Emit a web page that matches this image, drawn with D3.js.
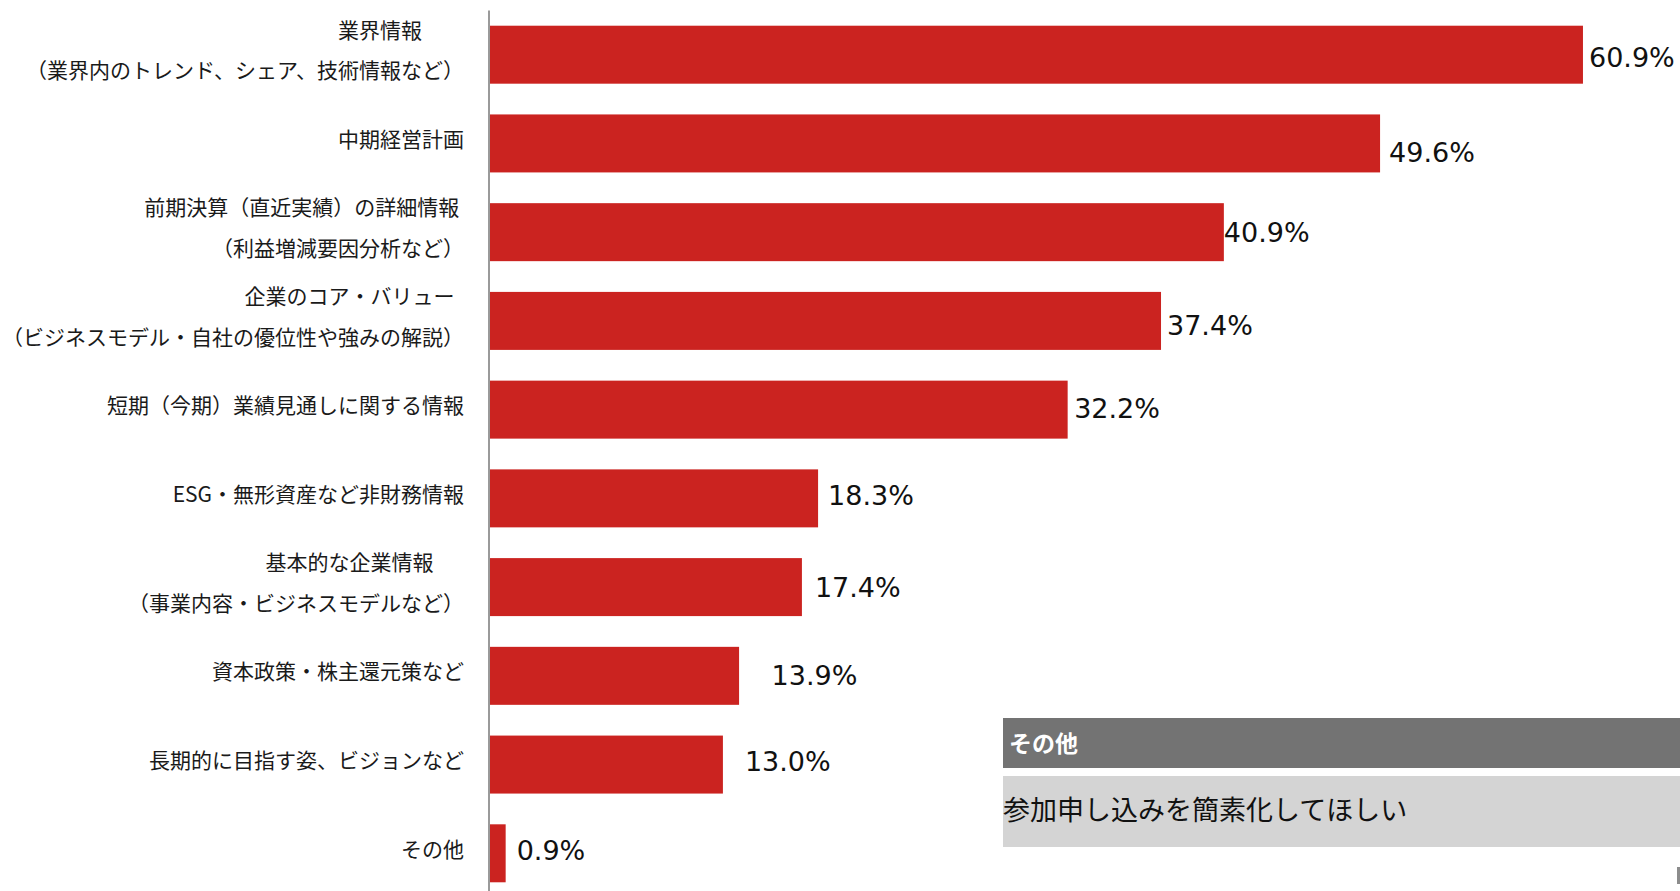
<!DOCTYPE html>
<html lang="ja">
<head>
<meta charset="utf-8">
<script src="https://cdn.jsdelivr.net/npm/d3@7"></script>
<style>
  html, body { margin: 0; padding: 0; background: #ffffff; }
  svg { display: block; }
  .cat { font-family: "Noto Sans CJK JP", "Noto Sans", sans-serif; font-size: 21px; fill: #1a1a1a; white-space: pre; }
  .val { font-family: "DejaVu Sans", Verdana, sans-serif; font-size: 27px; fill: #111111; }
</style>
</head>
<body>
<svg id="chart" width="1680" height="891"></svg>
<script>
// Survey items (each entry is the list of lines of its label)
const categories = [
  ["業界情報　　", "（業界内のトレンド、シェア、技術情報など）"],
  ["中期経営計画"],
  ["前期決算（直近実績）の詳細情報 ", "（利益増減要因分析など）"],
  ["企業のコア・バリュー  ", "（ビジネスモデル・自社の優位性や強みの解説）"],
  ["短期（今期）業績見通しに関する情報"],
  ["ESG・無形資産など非財務情報"],
  ["基本的な企業情報　  ", "（事業内容・ビジネスモデルなど）"],
  ["資本政策・株主還元策など"],
  ["長期的に目指す姿、ビジョンなど"],
  ["その他"]
];

// Share of respondents (%)
const values = [60.9, 49.6, 40.9, 37.4, 32.2, 18.3, 17.4, 13.9, 13.0, 0.9];

// Free-text answers for "その他"
const otherTitle = "その他";
const otherComments = ["参加申し込みを簡素化してほしい"];

// Hand placement of each value label: [dx from bar end, dy from bar centre]
const labelNudge = [
  [6, 3], [9, 9], [0, 0], [6, 4], [6.5, -1.5],
  [10, -3], [13, 0.5], [32.5, -1], [22, -3.5], [11, -3.5]
];

const svg = d3.select("#chart");
const idx = d3.range(values.length);

const x = d3.scaleLinear().domain([0, 70]).range([489.5, 489.5 + 17.955 * 70]);
const y = d3.scaleBand()
  .domain(idx)
  .range([10, 898])
  .paddingInner(0.3465)
  .paddingOuter(0.177);

// Bars
svg.append("g")
  .selectAll("rect")
  .data(idx)
  .join("rect")
  .attr("x", x(0))
  .attr("y", i => y(i))
  .attr("width", i => x(values[i]) - x(0))
  .attr("height", y.bandwidth())
  .attr("fill", "#cb2320");

// Vertical category axis (line only)
const axis = svg.append("g")
  .attr("transform", `translate(${x(0) - 1},0)`)
  .call(d3.axisLeft(y).tickSize(0).tickFormat(""));
axis.select(".domain").attr("stroke", "#9a9a9a").attr("stroke-width", 2);

// Category labels, right-aligned left of the axis
const lineGap = 40.6;
const cat = svg.append("g")
  .selectAll("text")
  .data(idx)
  .join("text")
  .attr("class", "cat")
  .attr("text-anchor", "end")
  .attr("dominant-baseline", "central");
cat.each(function (i) {
  const lines = categories[i];
  const cy = y(i) + y.bandwidth() / 2 - 5.5;
  const t = d3.select(this);
  lines.forEach((ln, k) => {
    t.append("tspan")
      .attr("x", 464)
      .attr("y", cy + (k - (lines.length - 1) / 2) * lineGap)
      .text(ln);
  });
});

// Value labels
svg.append("g")
  .selectAll("text")
  .data(idx)
  .join("text")
  .attr("class", "val")
  .attr("x", i => x(values[i]) + labelNudge[i][0])
  .attr("y", i => y(i) + y.bandwidth() / 2 + labelNudge[i][1] + 9.8)
  .text(i => values[i].toFixed(1) + "%");

// "その他" free-answer panel
const panel = svg.append("g");
panel.append("rect")
  .attr("x", 1003).attr("y", 718).attr("width", 677).attr("height", 50)
  .attr("fill", "#737373");
panel.append("text")
  .attr("x", 1009).attr("y", 742)
  .attr("dominant-baseline", "central")
  .style("font-family", '"Noto Sans CJK JP", sans-serif')
  .style("font-size", "23px")
  .style("font-weight", "bold")
  .attr("fill", "#ffffff")
  .text(otherTitle);
panel.append("rect")
  .attr("x", 1003).attr("y", 776).attr("width", 677).attr("height", 71)
  .attr("fill", "#d4d4d4");
panel.selectAll("text.comment")
  .data(otherComments)
  .join("text")
  .attr("class", "comment")
  .attr("x", 1003)
  .attr("y", (d, k) => 808 + k * 34)
  .attr("dominant-baseline", "central")
  .style("font-family", '"Noto Sans CJK JP", sans-serif')
  .style("font-size", "27px")
  .attr("fill", "#111111")
  .text(d => d);

// small frame edge at the lower right
svg.append("rect")
  .attr("x", 1677).attr("y", 867).attr("width", 3).attr("height", 17)
  .attr("fill", "#8c8c8c");
</script>
</body>
</html>
